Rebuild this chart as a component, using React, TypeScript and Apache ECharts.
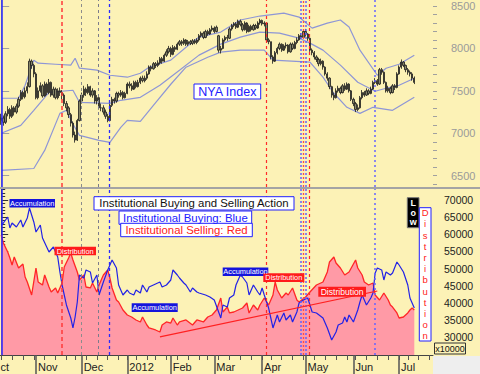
import React, { useEffect, useRef } from "react";
import * as echarts from "echarts";

// NYA daily bars: [open, close, low, high], trading day index 0 = 10 Oct 2011
const nyaOHLC: number[][] = [
  [7150,7180,7100,7230],[7180,7130,7090,7210],[7130,7230,7110,7260],[7230,7280,7200,7320],[7280,7200,7170,7300],
  [7200,7300,7180,7330],[7300,7250,7210,7320],[7250,7320,7230,7350],[7320,7400,7300,7430],[7400,7480,7380,7510],
  [7480,7430,7400,7500],[7430,7500,7410,7540],[7500,7550,7470,7600],[7550,7850,7540,7880],[7850,7800,7760,7870],
  [7800,7700,7660,7820],[7700,7420,7400,7720],[7420,7500,7400,7540],[7500,7560,7480,7600],[7560,7440,7420,7580],
  [7440,7580,7430,7610],[7580,7480,7450,7600],[7480,7600,7460,7640],[7600,7450,7430,7610],[7450,7520,7420,7550],
  [7520,7420,7400,7540],[7420,7500,7400,7530],[7500,7480,7440,7540],[7480,7450,7400,7510],[7450,7350,7320,7470],
  [7350,7300,7260,7380],[7300,7220,7180,7320],[7220,7120,7080,7240],[7120,6980,6950,7140],[6980,6920,6890,7020],
  [6920,7150,6910,7170],[7150,7380,7140,7400],[7380,7450,7350,7480],[7450,7520,7420,7560],[7520,7480,7440,7540],
  [7480,7550,7460,7580],[7550,7450,7430,7560],[7450,7500,7420,7530],[7500,7380,7350,7510],[7380,7420,7340,7450],
  [7420,7300,7280,7440],[7300,7300,7260,7350],[7300,7250,7220,7330],[7250,7200,7170,7280],[7200,7150,7130,7230],
  [7150,7330,7140,7350],[7330,7400,7310,7430],[7400,7380,7350,7420],[7380,7470,7360,7490],[7470,7450,7420,7490],
  [7450,7480,7430,7510],[7480,7420,7400,7500],[7420,7470,7410,7490],[7470,7580,7460,7600],[7580,7560,7530,7610],
  [7560,7520,7500,7590],[7520,7600,7510,7620],[7600,7550,7530,7620],[7550,7600,7540,7630],[7600,7650,7580,7670],
  [7650,7620,7600,7680],[7620,7650,7600,7680],[7650,7700,7630,7730],[7700,7780,7690,7800],[7780,7760,7730,7800],
  [7760,7820,7750,7840],[7820,7800,7770,7840],[7800,7830,7780,7860],[7830,7880,7810,7900],[7880,7850,7820,7900],
  [7850,7920,7840,7940],[7920,7960,7900,7990],[7960,8000,7940,8030],[8000,7930,7900,8020],[7930,8010,7920,8040],
  [8010,7990,7960,8030],[7990,8050,7980,8070],[8050,8080,8030,8100],[8080,8060,8030,8100],[8060,8100,8040,8120],
  [8100,8050,8030,8110],[8050,8080,8030,8100],[8080,8060,8040,8100],[8060,8090,8040,8110],[8090,8070,8050,8110],
  [8070,8100,8050,8120],[8100,8150,8080,8170],[8150,8180,8130,8200],[8180,8130,8110,8200],[8130,8200,8120,8220],
  [8200,8170,8150,8220],[8170,8220,8160,8240],[8220,8240,8200,8270],[8240,8200,8180,8260],[8200,8250,8190,8270],
  [8150,7980,7950,8160],[7980,8000,7940,8030],[8000,8100,7990,8120],[8100,8130,8080,8150],[8130,8120,8090,8160],
  [8120,8230,8110,8250],[8230,8270,8210,8290],[8270,8290,8250,8310],[8290,8250,8230,8310],[8250,8320,8240,8340],
  [8320,8280,8260,8340],[8280,8220,8200,8300],[8220,8300,8210,8320],[8300,8200,8180,8310],[8200,8260,8190,8280],
  [8260,8220,8200,8280],[8220,8270,8210,8290],[8270,8240,8220,8290],[8240,8300,8230,8320],[8300,8330,8280,8350],
  [8330,8290,8270,8340],[8290,8300,8260,8320],[8300,8100,8080,8300],[8100,8080,8050,8120],[8080,7900,7870,8080],
  [7900,7850,7820,7920],[7850,7950,7840,7970],[7950,8000,7930,8020],[8000,8050,7980,8070],[8050,7980,7960,8060],
  [7980,8030,7970,8050],[8030,8040,8000,8070],[8040,7960,7940,8050],[7960,8050,7950,8070],[8050,8000,7980,8070],
  [8000,8070,7990,8090],[8070,8100,8050,8130],[8100,8150,8090,8170],[8150,8130,8110,8180],[8130,8200,8120,8220],
  [8200,8170,8140,8230],[8170,8120,8090,8180],[8120,7980,7960,8130],[7980,7950,7920,8000],[7950,7900,7870,7970],
  [7900,7870,7840,7920],[7870,7820,7790,7890],[7820,7850,7800,7880],[7850,7780,7750,7860],[7780,7700,7680,7790],
  [7700,7650,7620,7720],[7650,7550,7520,7660],[7550,7450,7420,7560],[7450,7420,7390,7480],[7420,7500,7410,7530],
  [7500,7530,7480,7560],[7530,7480,7460,7550],[7480,7560,7470,7580],[7560,7520,7500,7590],[7520,7580,7510,7600],
  [7580,7500,7480,7590],[7500,7400,7380,7510],[7400,7350,7320,7420],[7350,7280,7250,7370],[7280,7300,7260,7340],
  [7300,7420,7290,7440],[7420,7480,7400,7510],[7480,7450,7430,7500],[7450,7500,7440,7530],[7500,7470,7450,7520],
  [7470,7520,7460,7550],[7520,7600,7510,7620],[7600,7620,7580,7650],[7620,7580,7560,7640],[7580,7750,7570,7770],
  [7750,7720,7690,7770],[7720,7600,7580,7730],[7600,7500,7480,7610],[7500,7530,7480,7560],[7530,7480,7460,7550],
  [7480,7560,7470,7580],[7560,7540,7510,7580],[7540,7700,7530,7720],[7700,7780,7690,7800],[7780,7840,7760,7870],
  [7840,7800,7780,7850],[7800,7750,7720,7810],[7750,7720,7690,7770],[7720,7700,7670,7740],[7700,7650,7620,7720],
  [7650,7600,7580,7670],
];

// Bollinger bands [day index, value]
const upperBand: number[][] = [
  [0,7413],[8,7413],[11,7566],[15,7862],[17,7826],[25,7814],[32,7803],[34,7885],[36,7767],[44,7744],
  [50,7684],[58,7661],[64,7708],[68,7779],[78,7862],[85,8015],[91,8134],[101,8193],[110,8335],[119,8382],
  [130,8417],[137,8370],[143,8240],[150,8299],[156,8335],[160,8252],[165,7980],[173,7684],[177,7767],[183,7814],[190,7921],
];
const middleBand: number[][] = [
  [0,7000],[9,7093],[15,7271],[22,7483],[33,7507],[36,7365],[50,7353],[55,7389],[64,7424],[73,7566],
  [82,7743],[91,7921],[101,8051],[110,8134],[119,8193],[128,8181],[137,8122],[142,8063],[148,7980],[156,7803],
  [164,7602],[172,7495],[177,7531],[183,7566],[190,7649],
];
const lowerBand: number[][] = [
  [0,6562],[15,6585],[20,6798],[27,7235],[30,7271],[33,7110],[36,6975],[45,6916],[50,6892],[55,7070],
  [58,7152],[64,7141],[70,7330],[78,7578],[85,7779],[95,7897],[101,7956],[110,7980],[121,7980],[125,7862],
  [142,7838],[148,7661],[153,7472],[159,7306],[165,7235],[171,7306],[180,7271],[190,7424],
];

// Institutional selling (red) and buying (blue), x10000
const sellingLine: number[][] = [
  [0,59790],[1,57460],[3,54840],[4,53090],[5,51050],[6,53380],[8,50180],[10,51340],[11,47560],[12,46100],
  [14,42320],[16,50180],[17,46100],[19,45230],[20,48140],[22,44650],[23,43190],[25,44360],[26,42900],[28,45810],
  [29,50470],[31,53090],[32,54550],[33,52510],[35,49020],[36,46690],[38,48140],[39,44650],[41,44360],[42,45810],
  [44,43190],[45,45230],[47,48140],[49,49600],[50,47270],[51,44360],[53,40860],[54,40280],[56,37950],[58,36490],
  [60,35910],[62,35040],[64,34460],[65,35910],[67,33580],[68,32710],[71,32130],[73,31540],[74,33580],[76,34460],
  [78,34160],[79,35620],[81,33580],[82,34460],[85,35040],[88,33580],[90,35040],[93,34460],[95,35910],[97,36490],
  [99,37950],[101,41440],[102,37370],[104,38820],[105,37080],[107,37370],[109,37950],[111,38530],[113,39990],[114,37080],
  [116,39410],[118,37950],[119,39410],[121,41440],[123,39410],[125,42320],[126,46100],[127,43770],[129,41440],[131,42900],
  [132,42320],[134,44360],[136,40860],[137,40280],[140,41740],[142,43190],[145,45230],[148,46100],[150,49020],[151,51930],
  [153,53380],[154,51640],[156,50180],[158,48140],[160,49020],[163,52510],[164,50180],[166,48140],[167,46100],[169,45230],
  [171,45810],[172,42320],[174,40860],[176,42900],[178,40860],[179,39410],[180,38820],[182,37080],[183,35620],[185,35910],
  [187,37080],[188,37950],[189,38530],[190,37950],
];
const buyingLine: number[][] = [
  [0,62700],[1,63290],[3,65030],[4,61830],[5,63290],[7,62120],[9,64160],[10,62120],[12,64740],[13,67650],
  [15,63580],[16,60660],[18,62700],[19,58920],[22,54840],[24,56300],[26,53380],[27,49020],[28,45230],[30,39410],
  [32,35620],[33,32710],[34,35910],[35,40280],[36,48140],[38,47270],[39,49600],[41,49020],[42,45810],[44,48140],
  [45,42320],[47,46100],[49,49600],[50,51050],[51,52510],[53,50180],[54,45230],[56,42320],[58,43770],[59,42900],
  [61,42320],[62,43770],[64,42900],[65,45230],[67,43190],[68,44650],[70,45230],[72,45810],[73,46100],[74,44650],
  [76,45230],[78,46690],[79,49600],[81,48140],[82,47270],[84,45810],[85,45230],[87,43190],[88,44360],[90,43190],
  [91,42900],[94,42320],[96,41740],[98,40860],[101,35620],[102,39410],[104,38820],[105,41440],[107,42320],[108,45230],
  [110,48140],[111,47560],[113,45810],[114,42320],[116,45230],[118,43190],[119,42320],[120,44360],[121,42320],[123,38530],
  [124,35620],[125,32710],[127,36490],[128,34460],[130,37080],[131,35040],[133,36490],[134,34460],[136,37370],[137,39990],
  [139,40860],[141,41440],[142,39410],[143,37370],[145,37080],[148,35620],[150,32710],[152,29210],[154,31540],[155,33580],
  [157,34160],[158,35910],[159,34460],[160,36490],[162,34460],[164,37950],[165,40280],[166,42320],[168,39410],[170,41440],
  [171,42900],[172,48720],[173,50180],[175,49600],[176,46690],[177,49020],[179,48140],[180,48720],[182,51930],[183,51050],
  [185,49020],[187,45230],[188,41440],[189,39990],[190,38530],
];
const sellingTrend: number[][] = [[73,30100],[173,43480]];

// axis ticks & labels
const monthStarts = [16, 37, 58, 78, 98, 120, 140, 162, 183];
const monthLabels = ["Nov", "Dec", "2012", "Feb", "Mar", "Apr", "May", "Jun", "Jul"];
const weekStarts = [0,5,10,15,20,25,30,34,39,44,49,54,58,62,67,71,76,81,86,91,95,100,105,110,115,120,124,129,134,139,144,149,154,159,163,168,173,178,183,187,192,197];
const priceTicks = [6500, 7000, 7500, 8000, 8500];
const flowTicks = [30000, 35000, 40000, 45000, 50000, 55000, 60000, 65000, 70000];

// vertical event markers: day index, colour, dash
const eventLines = [
  { idx: 0.2, color: "#2424ff", dash: "solid", w: 1.5 },
  { idx: 27.8, color: "#ff3a3a", dash: [4, 3], w: 1.5 },
  { idx: 37, color: "#8c8c8c", dash: [3, 3], w: 1 },
  { idx: 44.7, color: "#7c7c8c", dash: [3, 3], w: 1 },
  { idx: 49.9, color: "#2a2aff", dash: [3, 3], w: 1.3 },
  { idx: 122.1, color: "#ff2a2a", dash: [3, 3], w: 1.2 },
  { idx: 137.9, color: "#6262ff", dash: [2, 2], w: 1.5 },
  { idx: 139, color: "#ff4a4a", dash: [2, 2], w: 1.3 },
  { idx: 140.1, color: "#6262ff", dash: [2, 2], w: 1.5 },
  { idx: 141.7, color: "#ff2a2a", dash: [3, 3], w: 1.2 },
  { idx: 171.9, color: "#6464ff", dash: [2, 3], w: 1.5 },
];

const FONT = '"Liberation Sans", Arial, sans-serif';
const BG = "#fcf2b6";

function boxLabel(x: number, y: number, w: number, h: number, text: string, opts: any) {
  return [
    {
      type: "rect",
      shape: { x, y, width: w, height: h },
      style: { fill: opts.bg, stroke: opts.border || null, lineWidth: opts.border ? 1 : 0 },
      z: 100,
      silent: true,
    },
    {
      type: "text",
      x: x + w / 2,
      y: y + h / 2 + (opts.dy || 0),
      style: {
        text,
        fill: opts.color,
        font: `${opts.bold ? "bold " : ""}${opts.size}px ${FONT}`,
        align: "center",
        verticalAlign: "middle",
        lineHeight: opts.lh || undefined,
      },
      z: 101,
      silent: true,
    },
  ];
}

export default function App() {
  const ref = useRef<HTMLDivElement>(null);
  useEffect(() => {
    document.body.style.margin = "0";
    const chart = echarts.init(ref.current!, null, { renderer: "svg" });
    const xMin = -0.55;
    const xMax = 198.6;
    const minorPrice: number[] = [];
    for (let v = 6400; v <= 8500; v += 100) minorPrice.push(v);
    const minorFlow: number[] = [];
    for (let v = 25000; v <= 73000; v += 1000) minorFlow.push(v);
    const plain = (v: number) => String(Math.round(v));

    const markLine = {
      silent: true,
      symbol: ["none", "none"],
      label: { show: false },
      animation: false,
      data: eventLines.map((e) => ({
        xAxis: e.idx,
        lineStyle: { color: e.color, type: e.dash as any, width: e.w },
      })),
    };

    const hiddenX = {
      type: "value",
      min: xMin,
      max: xMax,
      axisLine: { show: false },
      axisTick: { show: false },
      axisLabel: { show: false },
      splitLine: { show: false },
    };

    const graphics: any[] = [
      { type: "rect", shape: { x: 0, y: 187, width: 480, height: 2 }, style: { fill: "#a4a4a4" }, z: 50, silent: true },
      { type: "rect", shape: { x: 433, y: 356, width: 47, height: 18 }, style: { fill: "#eeeeee" }, z: 50, silent: true },
      {
        type: "text", x: 0.5, y: 367,
        style: { text: "ct", fill: "#222", font: `11px ${FONT}`, align: "left", verticalAlign: "middle" },
        z: 60, silent: true,
      },
      ...boxLabel(194, 84, 66.7, 15, "NYA Index", { bg: "#ffffff", border: "#2020ff", color: "#2020ff", size: 12.5 }),
      ...boxLabel(9.5, 199, 45.5, 8.6, "Accumulation", { bg: "#1414dc", color: "#ffffff", size: 7.4 }),
      ...boxLabel(54.5, 246.7, 41.5, 8.6, "Distribution", { bg: "#ff1c1c", color: "#ffffff", size: 7.4 }),
      ...boxLabel(131.7, 303.3, 46, 8.6, "Accumulation", { bg: "#1414dc", color: "#ffffff", size: 7.4 }),
      ...boxLabel(222.7, 267.5, 45.6, 8.6, "Accumulation", { bg: "#1414dc", color: "#ffffff", size: 7.4 }),
      ...boxLabel(263.3, 273.3, 41, 8.6, "Distribution", { bg: "#ff1c1c", color: "#ffffff", size: 7.4 }),
      ...boxLabel(318.3, 286.7, 47.7, 10, "Distribution", { bg: "#ff1c1c", color: "#ffffff", size: 8.6 }),
      ...boxLabel(94, 196.7, 200, 13.3, "Institutional Buying and Selling Action", { bg: "#ffffff", border: "#2020ff", color: "#111111", size: 11.4 }),
      ...boxLabel(119, 211, 132.7, 13.3, "Institutional Buying: Blue", { bg: "#ffffff", border: "#2020ff", color: "#2020ff", size: 11.4 }),
      ...boxLabel(120.7, 223.3, 131.6, 13.4, "Institutional Selling: Red", { bg: "#ffffff", border: "#2020ff", color: "#ff2020", size: 11.4 }),
      ...boxLabel(407.3, 197.7, 11.7, 30, "L\no\nw", { bg: "#000000", border: "#777777", color: "#ffffff", size: 9, bold: true, lh: 9.5 }),
      ...boxLabel(419.3, 207.7, 11.7, 133.3, "D\ni\ns\nt\nr\ni\nb\nu\nt\ni\no\nn", { bg: "#ffffff", border: "#2020ff", color: "#ff2020", size: 9.5, lh: 11.2 }),
      ...boxLabel(434.5, 343, 31, 11, "x10000", { bg: BG, border: "#333333", color: "#111111", size: 9 }),
    ];

    const option: any = {
      animation: false,
      backgroundColor: BG,
      textStyle: { fontFamily: FONT },
      grid: [
        { left: 0, right: 47, top: 0, height: 187 },
        { left: 0, right: 47, top: 189, height: 166 },
      ],
      xAxis: [
        { ...hiddenX, gridIndex: 0 },
        {
          type: "value", gridIndex: 1, min: xMin, max: xMax, position: "bottom",
          axisLine: { show: true, lineStyle: { color: "#444", width: 1 } },
          axisTick: { show: true, customValues: weekStarts, length: 5, lineStyle: { color: "#555", width: 1 } },
          axisLabel: { show: false },
          splitLine: { show: false },
        },
        {
          type: "value", gridIndex: 1, min: xMin, max: xMax, position: "bottom",
          axisLine: { show: false },
          axisTick: { show: true, customValues: monthStarts, length: 19, lineStyle: { color: "#555", width: 1.5 } },
          axisLabel: {
            show: true,
            customValues: monthStarts,
            formatter: (v: number) => {
              const k = monthStarts.indexOf(Math.round(v));
              return k >= 0 ? monthLabels[k] : "";
            },
            align: "left",
            padding: [0, 0, 0, 2],
            margin: 6,
            color: "#222",
            fontSize: 11,
            fontFamily: FONT,
          },
          splitLine: { show: false },
        },
      ],
      yAxis: [
        {
          type: "value", gridIndex: 0, position: "right", min: 6367, max: 8571,
          axisLine: { show: true, lineStyle: { color: "#a0a0a0" } },
          axisTick: { show: true, customValues: priceTicks, length: 8, lineStyle: { color: "#a0a0a0" } },
          axisLabel: { show: true, customValues: priceTicks, formatter: plain, margin: 18, color: "#9a9a9a", fontSize: 11, fontFamily: FONT },
          splitLine: { show: false },
        },
        {
          type: "value", gridIndex: 0, position: "right", min: 6367, max: 8571,
          axisLine: { show: false },
          axisTick: { show: true, customValues: minorPrice, length: 4, lineStyle: { color: "#a0a0a0" } },
          axisLabel: { show: false },
          splitLine: { show: false },
        },
        {
          type: "value", gridIndex: 1, position: "right", min: 24846, max: 73185,
          axisLine: { show: true, lineStyle: { color: "#333" } },
          axisTick: { show: true, customValues: [25000, ...flowTicks], length: 7, lineStyle: { color: "#333" } },
          axisLabel: { show: true, customValues: flowTicks, formatter: plain, margin: 11, color: "#222", fontSize: 10.5, fontFamily: FONT },
          splitLine: { show: false },
        },
        {
          type: "value", gridIndex: 1, position: "right", min: 24846, max: 73185,
          axisLine: { show: false },
          axisTick: { show: true, customValues: minorFlow, length: 4, lineStyle: { color: "#333" } },
          axisLabel: { show: false },
          splitLine: { show: false },
        },
      ],
      series: [
        {
          type: "line", xAxisIndex: 0, yAxisIndex: 0, data: upperBand, symbol: "none",
          lineStyle: { color: "#8e96d6", width: 1.2 }, z: 2,
        },
        {
          type: "line", xAxisIndex: 0, yAxisIndex: 0, data: middleBand, symbol: "none",
          lineStyle: { color: "#8e96d6", width: 1.2 }, z: 2,
        },
        {
          type: "line", xAxisIndex: 0, yAxisIndex: 0, data: lowerBand, symbol: "none",
          lineStyle: { color: "#8e96d6", width: 1.2 }, z: 2,
        },
        {
          type: "candlestick", xAxisIndex: 0, yAxisIndex: 0,
          data: nyaOHLC.map((r, i) => [i, r[0], r[1], r[2], r[3]]),
          encode: { x: 0, y: [1, 2, 3, 4] },
          barWidth: 1.8,
          itemStyle: { color: "#86866a", color0: "#86866a", borderColor: "#1a1a1a", borderColor0: "#1a1a1a", borderWidth: 0.8 },
          markLine,
          z: 3,
        },
        {
          type: "line", xAxisIndex: 1, yAxisIndex: 2, data: sellingLine, symbol: "none",
          lineStyle: { color: "#ff2626", width: 1.3 },
          areaStyle: { color: "#ff9aa6", opacity: 1, origin: "start" },
          z: 2,
        },
        {
          type: "line", xAxisIndex: 1, yAxisIndex: 2, data: buyingLine, symbol: "none",
          lineStyle: { color: "#2222e6", width: 1.2 }, z: 4,
        },
        {
          type: "line", xAxisIndex: 1, yAxisIndex: 2, data: sellingTrend, symbol: "none",
          lineStyle: { color: "#ff2020", width: 1.2 }, z: 5,
          markLine,
        },
      ],
      graphic: graphics,
    };
    chart.setOption(option);
    return () => chart.dispose();
  }, []);
  return <div ref={ref} style={{ width: 480, height: 374 }} />;
}
